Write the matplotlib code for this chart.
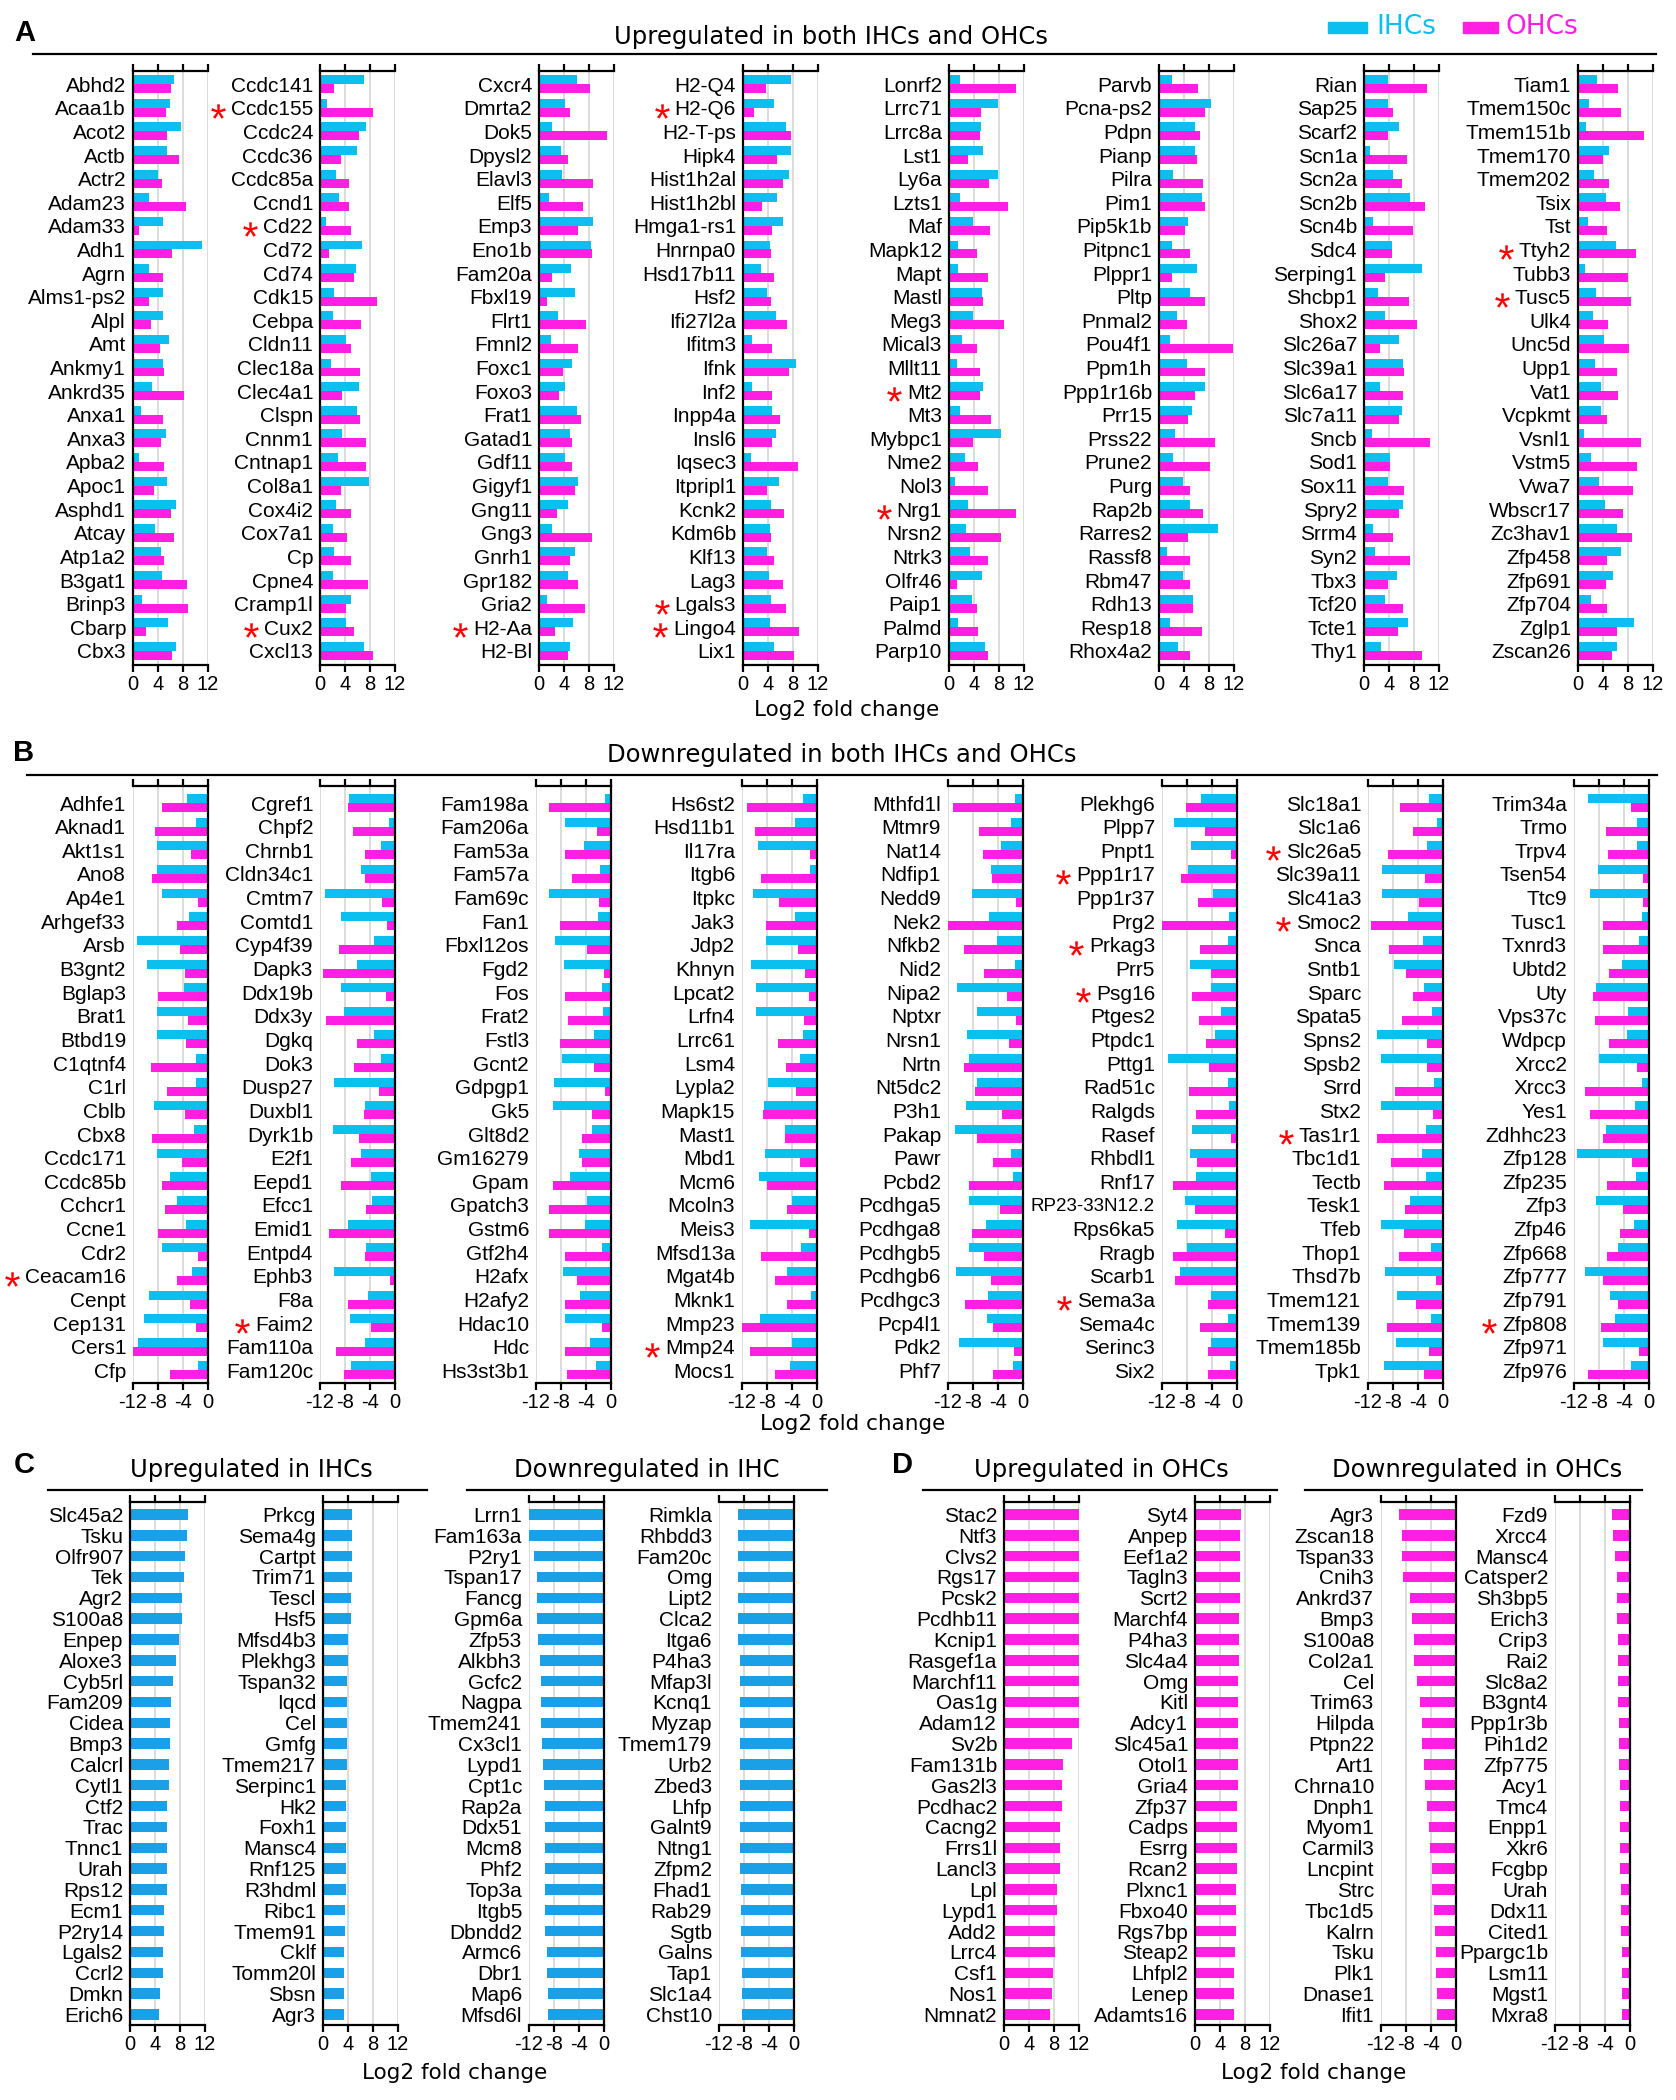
import numpy as np
import matplotlib
matplotlib.use("Agg")
import matplotlib.pyplot as plt
from matplotlib.patches import Rectangle
from matplotlib.lines import Line2D
from matplotlib.path import Path
from matplotlib.textpath import TextPath
from matplotlib.font_manager import FontProperties

plt.rcParams['axes.unicode_minus'] = False

IHC_COLOR = '#0bc0ee'
OHC_COLOR = '#ff1fe3'
IHC_ONLY = '#1aa0e6'
LABEL_FONT = ['Liberation Sans Narrow', 'Liberation Sans', 'DejaVu Sans']
TITLE_FONT = ['DejaVu Sans']

# ---------------- A: upregulated in both IHCs and OHCs ----------------
a1_genes = ["Abhd2", "Acaa1b", "Acot2", "Actb", "Actr2", "Adam23", "Adam33", "Adh1", "Agrn", "Alms1-ps2",
            "Alpl", "Amt", "Ankmy1", "Ankrd35", "Anxa1", "Anxa3", "Apba2", "Apoc1", "Asphd1", "Atcay",
            "Atp1a2", "B3gat1", "Brinp3", "Cbarp", "Cbx3"]
a1_ihc = [6.6, 5.9, 7.6, 5.5, 4.0, 2.6, 4.8, 11.0, 2.6, 4.8, 4.8, 5.8, 4.8, 3.1, 1.3, 5.2, 1.0, 5.5, 6.8, 3.5,
          4.4, 4.6, 1.5, 5.6, 6.8]
a1_ohc = [6.0, 5.2, 5.5, 7.3, 4.7, 8.5, 1.0, 6.2, 4.8, 2.6, 2.9, 4.3, 4.9, 8.1, 4.8, 4.4, 4.9, 3.3, 6.0, 6.5,
          4.9, 8.7, 8.8, 2.1, 6.3]

a2_genes = ["Ccdc141", "Ccdc155", "Ccdc24", "Ccdc36", "Ccdc85a", "Ccnd1", "Cd22", "Cd72", "Cd74", "Cdk15",
            "Cebpa", "Cldn11", "Clec18a", "Clec4a1", "Clspn", "Cnnm1", "Cntnap1", "Col8a1", "Cox4i2", "Cox7a1",
            "Cp", "Cpne4", "Cramp1l", "Cux2", "Cxcl13"]
a2_ihc = [7.1, 1.1, 7.4, 5.9, 2.5, 3.0, 0.9, 6.7, 5.7, 2.2, 2.1, 4.2, 1.7, 6.3, 5.9, 3.5, 2.9, 7.9, 2.6, 2.0,
          2.2, 2.0, 5.0, 4.2, 7.0]
a2_ohc = [2.3, 8.5, 6.2, 3.3, 4.6, 4.7, 4.9, 1.5, 5.4, 9.1, 6.6, 4.9, 6.4, 3.5, 6.4, 7.4, 7.3, 3.4, 4.9, 4.3,
          4.9, 7.6, 4.1, 5.5, 8.4]

a3_genes = ["Cxcr4", "Dmrta2", "Dok5", "Dpysl2", "Elavl3", "Elf5", "Emp3", "Eno1b", "Fam20a", "Fbxl19",
            "Flrt1", "Fmnl2", "Foxc1", "Foxo3", "Frat1", "Gatad1", "Gdf11", "Gigyf1", "Gng11", "Gng3",
            "Gnrh1", "Gpr182", "Gria2", "H2-Aa", "H2-Bl"]
a3_ihc = [6.1, 4.2, 2.1, 3.5, 3.6, 1.6, 8.7, 8.3, 5.1, 5.8, 3.0, 1.9, 5.3, 4.2, 6.1, 4.9, 4.2, 6.2, 4.7, 2.0,
          5.7, 4.6, 1.3, 5.5, 5.0]
a3_ohc = [8.1, 4.9, 10.8, 4.7, 8.7, 7.1, 6.2, 8.5, 2.1, 1.3, 7.5, 6.3, 3.8, 3.2, 6.7, 5.2, 5.2, 5.8, 2.8, 8.5,
          4.9, 6.3, 7.3, 2.6, 4.7]

a4_genes = ["H2-Q4", "H2-Q6", "H2-T-ps", "Hipk4", "Hist1h2al", "Hist1h2bl", "Hmga1-rs1", "Hnrnpa0", "Hsd17b11",
            "Hsf2", "Ifi27l2a", "Ifitm3", "Ifnk", "Inf2", "Inpp4a", "Insl6", "Iqsec3", "Itpripl1", "Kcnk2",
            "Kdm6b", "Klf13", "Lag3", "Lgals3", "Lingo4", "Lix1"]
a4_ihc = [7.7, 5.0, 6.8, 7.7, 7.4, 5.4, 6.4, 4.3, 2.9, 3.9, 5.2, 1.5, 8.4, 1.5, 4.6, 5.2, 1.2, 5.7, 4.5, 4.3,
          3.9, 4.2, 4.5, 4.3, 5.0]
a4_ohc = [3.7, 1.7, 7.6, 5.5, 6.4, 3.1, 4.7, 4.5, 4.9, 4.5, 7.1, 4.6, 7.4, 4.6, 5.9, 4.7, 8.8, 3.8, 6.6, 4.5,
          4.9, 6.4, 6.8, 9.0, 8.2]

a5_genes = ["Lonrf2", "Lrrc71", "Lrrc8a", "Lst1", "Ly6a", "Lzts1", "Maf", "Mapk12", "Mapt", "Mastl",
            "Meg3", "Mical3", "Mllt11", "Mt2", "Mt3", "Mybpc1", "Nme2", "Nol3", "Nrg1", "Nrsn2",
            "Ntrk3", "Olfr46", "Paip1", "Palmd", "Parp10"]
a5_ihc = [1.7, 7.9, 5.1, 5.4, 7.8, 1.7, 3.8, 1.5, 1.5, 5.3, 3.9, 2.1, 1.3, 5.4, 1.7, 8.3, 2.5, 1.0, 3.0, 2.7,
          3.4, 5.3, 3.6, 1.5, 5.7]
a5_ohc = [10.7, 5.1, 4.9, 3.0, 6.4, 9.5, 6.6, 4.5, 6.2, 5.4, 8.8, 4.5, 4.9, 5.0, 6.7, 3.8, 4.7, 6.2, 10.7, 8.3,
          6.3, 1.3, 4.5, 4.7, 6.2]

a6_genes = ["Parvb", "Pcna-ps2", "Pdpn", "Pianp", "Pilra", "Pim1", "Pip5k1b", "Pitpnc1", "Plppr1", "Pltp",
            "Pnmal2", "Pou4f1", "Ppm1h", "Ppp1r16b", "Prr15", "Prss22", "Prune2", "Purg", "Rap2b", "Rarres2",
            "Rassf8", "Rbm47", "Rdh13", "Resp18", "Rhox4a2"]
a6_ihc = [2.0, 8.3, 5.8, 5.8, 2.2, 6.8, 4.7, 2.0, 6.0, 4.9, 2.8, 1.8, 4.5, 7.3, 5.2, 2.6, 2.2, 3.9, 5.0, 9.4,
          1.2, 3.8, 5.4, 1.8, 3.0]
a6_ohc = [6.2, 7.3, 6.5, 6.0, 7.0, 7.3, 4.1, 4.9, 2.1, 7.3, 4.4, 11.9, 7.3, 5.8, 4.7, 8.9, 8.1, 4.9, 7.0, 4.6,
          4.9, 4.9, 5.5, 6.9, 4.9]

a7_genes = ["Rian", "Sap25", "Scarf2", "Scn1a", "Scn2a", "Scn2b", "Scn4b", "Sdc4", "Serping1", "Shcbp1",
            "Shox2", "Slc26a7", "Slc39a1", "Slc6a17", "Slc7a11", "Sncb", "Sod1", "Sox11", "Spry2", "Srrm4",
            "Syn2", "Tbx3", "Tcf20", "Tcte1", "Thy1"]
a7_ihc = [3.8, 3.8, 5.6, 0.9, 4.7, 7.4, 1.5, 4.4, 9.2, 2.2, 3.3, 5.6, 6.2, 2.5, 6.1, 1.3, 4.2, 3.8, 6.3, 1.5,
          1.7, 5.3, 3.4, 7.0, 2.7]
a7_ohc = [10.0, 4.6, 3.9, 6.8, 6.1, 9.7, 7.9, 4.5, 3.4, 7.2, 8.4, 2.5, 6.4, 6.2, 5.6, 10.5, 4.2, 6.4, 5.6, 4.7,
          7.4, 3.8, 6.2, 5.5, 9.3]

a8_genes = ["Tiam1", "Tmem150c", "Tmem151b", "Tmem170", "Tmem202", "Tsix", "Tst", "Ttyh2", "Tubb3", "Tusc5",
            "Ulk4", "Unc5d", "Upp1", "Vat1", "Vcpkmt", "Vsnl1", "Vstm5", "Vwa7", "Wbscr17", "Zc3hav1",
            "Zfp458", "Zfp691", "Zfp704", "Zglp1", "Zscan26"]
a8_ihc = [3.0, 1.7, 1.3, 5.0, 2.5, 4.5, 1.6, 6.1, 1.1, 2.9, 2.4, 4.1, 2.7, 3.6, 3.6, 0.9, 2.0, 3.3, 4.3, 6.2,
          6.8, 5.6, 2.1, 9.0, 6.3]
a8_ohc = [6.4, 6.9, 10.5, 4.0, 5.0, 6.7, 4.6, 9.3, 8.0, 8.4, 4.8, 8.2, 6.2, 6.4, 4.6, 10.0, 9.5, 8.8, 7.2, 8.7,
          4.6, 4.5, 4.6, 6.3, 5.4]

# ---------------- B: downregulated in both IHCs and OHCs ----------------
b1_genes = ["Adhfe1", "Aknad1", "Akt1s1", "Ano8", "Ap4e1", "Arhgef33", "Arsb", "B3gnt2", "Bglap3", "Brat1",
            "Btbd19", "C1qtnf4", "C1rl", "Cblb", "Cbx8", "Ccdc171", "Ccdc85b", "Cchcr1", "Ccne1", "Cdr2",
            "Ceacam16", "Cenpt", "Cep131", "Cers1", "Cfp"]
b1_ihc = [-3.3, -2.0, -8.2, -8.2, -7.3, -3.1, -11.4, -9.7, -3.9, -8.2, -8.2, -2.0, -2.0, -8.6, -2.2, -8.1, -6.1,
          -4.9, -3.5, -7.4, -2.5, -9.4, -10.3, -11.2, -1.6]
b1_ohc = [-7.4, -8.5, -2.8, -8.9, -1.6, -4.9, -4.5, -3.7, -8.0, -3.2, -3.5, -9.2, -6.6, -3.7, -8.9, -4.2, -7.3,
          -6.9, -8.0, -1.6, -5.0, -2.9, -1.9, -12.0, -6.1]

b2_genes = ["Cgref1", "Chpf2", "Chrnb1", "Cldn34c1", "Cmtm7", "Comtd1", "Cyp4f39", "Dapk3", "Ddx19b", "Ddx3y",
            "Dgkq", "Dok3", "Dusp27", "Duxbl1", "Dyrk1b", "E2f1", "Eepd1", "Efcc1", "Emid1", "Entpd4",
            "Ephb3", "F8a", "Faim2", "Fam110a", "Fam120c"]
b2_ihc = [-7.3, -1.0, -2.3, -5.5, -11.2, -8.6, -3.3, -6.1, -8.7, -8.2, -3.4, -2.2, -9.7, -4.8, -10.0, -5.4, -3.9,
          -3.7, -7.6, -4.6, -9.7, -4.3, -7.2, -4.8, -7.1]
b2_ohc = [-7.6, -6.8, -4.8, -4.8, -2.1, -1.3, -8.9, -11.5, -1.5, -11.0, -6.1, -6.5, -2.6, -5.0, -5.7, -7.0, -8.6,
          -4.7, -10.6, -4.8, -0.8, -7.6, -3.9, -9.5, -8.2]

b3_genes = ["Fam198a", "Fam206a", "Fam53a", "Fam57a", "Fam69c", "Fan1", "Fbxl12os", "Fgd2", "Fos", "Frat2",
            "Fstl3", "Gcnt2", "Gdpgp1", "Gk5", "Glt8d2", "Gm16279", "Gpam", "Gpatch3", "Gstm6", "Gtf2h4",
            "H2afx", "H2afy2", "Hdac10", "Hdc", "Hs3st3b1"]
b3_ihc = [-0.9, -7.4, -4.4, -1.8, -10.0, -2.1, -9.0, -7.5, -1.4, -1.3, -2.8, -7.8, -9.2, -9.3, -3.1, -5.1, -6.5,
          -3.9, -4.1, -1.4, -7.7, -5.0, -7.4, -3.4, -2.4]
b3_ohc = [-10.0, -2.2, -7.4, -6.3, -1.9, -8.1, -3.9, -1.2, -7.4, -6.9, -8.2, -2.8, -0.9, -3.1, -4.7, -4.7, -9.3,
          -10.0, -10.0, -7.4, -5.4, -7.4, -1.4, -7.3, -7.0]

b4_genes = ["Hs6st2", "Hsd11b1", "Il17ra", "Itgb6", "Itpkc", "Jak3", "Jdp2", "Khnyn", "Lpcat2", "Lrfn4",
            "Lrrc61", "Lsm4", "Lypla2", "Mapk15", "Mast1", "Mbd1", "Mcm6", "Mcoln3", "Meis3", "Mfsd13a",
            "Mgat4b", "Mknk1", "Mmp23", "Mmp24", "Mocs1"]
b4_ihc = [-2.2, -3.5, -9.4, -1.2, -10.3, -3.6, -8.1, -10.5, -9.8, -9.7, -2.2, -2.7, -7.8, -8.5, -5.2, -8.4, -9.3,
          -4.0, -10.7, -2.5, -4.8, -0.9, -9.2, -4.0, -4.4]
b4_ohc = [-11.2, -10.0, -1.1, -8.9, -6.1, -8.1, -3.0, -2.0, -1.3, -2.1, -6.3, -4.9, -3.3, -8.7, -5.1, -2.7, -8.0,
          -4.8, -1.3, -8.9, -6.8, -4.8, -12.0, -10.8, -6.8]

b5_genes = ["Mthfd1l", "Mtmr9", "Nat14", "Ndfip1", "Nedd9", "Nek2", "Nfkb2", "Nid2", "Nipa2", "Nptxr",
            "Nrsn1", "Nrtn", "Nt5dc2", "P3h1", "Pakap", "Pawr", "Pcbd2", "Pcdhga5", "Pcdhga8", "Pcdhgb5",
            "Pcdhgb6", "Pcdhgc3", "Pcp4l1", "Pdk2", "Phf7"]
b5_ihc = [-1.3, -2.0, -3.6, -5.2, -8.1, -5.5, -4.1, -1.3, -10.6, -7.3, -9.0, -8.7, -7.3, -9.2, -10.9, -1.9, -1.6,
          -8.7, -6.0, -8.7, -10.7, -5.6, -5.7, -10.2, -1.6]
b5_ohc = [-11.2, -7.1, -6.4, -4.9, -1.2, -12.0, -9.4, -6.2, -2.6, -1.2, -2.2, -9.5, -7.7, -3.4, -7.4, -4.8, -8.7,
          -3.7, -8.2, -6.3, -5.2, -9.3, -4.8, -1.4, -4.8]

b6_genes = ["Plekhg6", "Plpp7", "Pnpt1", "Ppp1r17", "Ppp1r37", "Prg2", "Prkag3", "Prr5", "Psg16", "Ptges2",
            "Ptpdc1", "Pttg1", "Rad51c", "Ralgds", "Rasef", "Rhbdl1", "Rnf17", "RP23-33N12.2", "Rps6ka5",
            "Rragb", "Scarb1", "Sema3a", "Sema4c", "Serinc3", "Six2"]
b6_ihc = [-5.8, -10.1, -7.3, -7.8, -3.8, -1.3, -1.4, -7.5, -4.2, -2.5, -3.6, -11.1, -1.4, -1.3, -7.2, -7.6, -6.6,
          -8.4, -9.6, -8.0, -9.1, -4.2, -1.5, -4.2, -1.2]
b6_ohc = [-8.2, -5.2, -1.0, -9.0, -6.3, -12.0, -6.0, -4.2, -7.2, -6.1, -4.9, -4.5, -7.7, -6.6, -1.0, -6.4, -10.2,
          -6.8, -2.0, -10.2, -9.9, -4.7, -6.0, -4.7, -4.7]

b7_genes = ["Slc18a1", "Slc1a6", "Slc26a5", "Slc39a11", "Slc41a3", "Smoc2", "Snca", "Sntb1", "Sparc", "Spata5",
            "Spns2", "Spsb2", "Srrd", "Stx2", "Tas1r1", "Tbc1d1", "Tectb", "Tesk1", "Tfeb", "Thop1",
            "Thsd7b", "Tmem121", "Tmem139", "Tmem185b", "Tpk1"]
b7_ihc = [-2.3, -1.0, -2.6, -9.7, -9.7, -5.6, -3.2, -7.8, -3.0, -1.8, -10.6, -10.0, -1.4, -9.9, -2.8, -3.4, -2.7,
          -5.3, -10.0, -1.9, -9.3, -7.3, -2.0, -7.6, -9.4]
b7_ohc = [-6.9, -4.8, -8.8, -2.9, -3.9, -11.5, -8.6, -6.0, -4.8, -6.5, -2.5, -2.6, -7.7, -1.6, -10.6, -8.4, -9.4,
          -6.1, -6.3, -7.1, -1.1, -4.3, -8.9, -2.3, -3.0]

b8_genes = ["Trim34a", "Trmo", "Trpv4", "Tsen54", "Ttc9", "Tusc1", "Txnrd3", "Ubtd2", "Uty", "Vps37c",
            "Wdpcp", "Xrcc2", "Xrcc3", "Yes1", "Zdhhc23", "Zfp128", "Zfp235", "Zfp3", "Zfp46", "Zfp668",
            "Zfp777", "Zfp791", "Zfp808", "Zfp971", "Zfp976"]
b8_ihc = [-9.7, -1.9, -1.9, -8.2, -9.5, -1.1, -1.6, -4.4, -8.5, -3.4, -3.6, -8.0, -1.2, -2.3, -6.9, -11.5, -2.1,
          -8.5, -2.4, -5.0, -10.2, -6.3, -5.4, -7.3, -2.9]
b8_ohc = [-2.9, -6.9, -6.5, -0.9, -0.9, -7.3, -7.4, -6.4, -8.9, -8.6, -6.4, -2.0, -10.2, -9.4, -7.3, -2.8, -6.8,
          -4.1, -4.7, -6.8, -7.4, -5.0, -7.7, -1.6, -9.8]

# genes marked with a red asterisk
starred = ["Ccdc155", "Cd22", "Cux2", "H2-Aa", "H2-Q6", "Lgals3", "Lingo4", "Mt2", "Nrg1", "Ttyh2", "Tusc5",
           "Ceacam16", "Faim2", "Mmp24", "Ppp1r17", "Prkag3", "Psg16", "Sema3a", "Slc26a5", "Smoc2", "Tas1r1",
           "Zfp808"]

# ---------------- C: IHC only ----------------
c_up1_genes = ["Slc45a2", "Tsku", "Olfr907", "Tek", "Agr2", "S100a8", "Enpep", "Aloxe3", "Cyb5rl", "Fam209",
               "Cidea", "Bmp3", "Calcrl", "Cytl1", "Ctf2", "Trac", "Tnnc1", "Urah", "Rps12", "Ecm1",
               "P2ry14", "Lgals2", "Ccrl2", "Dmkn", "Erich6"]
c_up1_vals = [9.3, 9.1, 8.8, 8.6, 8.3, 8.3, 7.9, 7.4, 6.8, 6.6, 6.4, 6.4, 6.3, 6.2, 5.9, 5.9, 5.9, 5.9, 5.9, 5.5,
              5.5, 5.3, 5.2, 4.8, 4.7]
c_up2_genes = ["Prkcg", "Sema4g", "Cartpt", "Trim71", "Tescl", "Hsf5", "Mfsd4b3", "Plekhg3", "Tspan32", "Iqcd",
               "Cel", "Gmfg", "Tmem217", "Serpinc1", "Hk2", "Foxh1", "Mansc4", "Rnf125", "R3hdml", "Ribc1",
               "Tmem91", "Cklf", "Tomm20l", "Sbsn", "Agr3"]
c_up2_vals = [4.6, 4.6, 4.6, 4.6, 4.5, 4.4, 4.0, 4.0, 3.9, 3.9, 3.8, 3.8, 3.8, 3.7, 3.7, 3.6, 3.6, 3.6, 3.6, 3.5,
              3.5, 3.3, 3.3, 3.3, 3.3]
c_dn1_genes = ["Lrrn1", "Fam163a", "P2ry1", "Tspan17", "Fancg", "Gpm6a", "Zfp53", "Alkbh3", "Gcfc2", "Nagpa",
               "Tmem241", "Cx3cl1", "Lypd1", "Cpt1c", "Rap2a", "Ddx51", "Mcm8", "Phf2", "Top3a", "Itgb5",
               "Dbndd2", "Armc6", "Dbr1", "Map6", "Mfsd6l"]
c_dn1_vals = [-12.0, -12.0, -11.2, -10.8, -10.8, -10.7, -10.6, -10.3, -10.1, -10.1, -10.1, -9.9, -9.7, -9.6, -9.5,
              -9.5, -9.5, -9.5, -9.4, -9.4, -9.4, -9.2, -9.1, -8.9, -8.9]
c_dn2_genes = ["Rimkla", "Rhbdd3", "Fam20c", "Omg", "Lipt2", "Clca2", "Itga6", "P4ha3", "Mfap3l", "Kcnq1",
               "Myzap", "Tmem179", "Urb2", "Zbed3", "Lhfp", "Galnt9", "Ntng1", "Zfpm2", "Fhad1", "Rab29",
               "Sgtb", "Galns", "Tap1", "Slc1a4", "Chst10"]
c_dn2_vals = [-9.0, -9.0, -9.0, -9.0, -8.9, -8.9, -8.9, -8.7, -8.7, -8.7, -8.7, -8.7, -8.7, -8.7, -8.6, -8.6, -8.6,
              -8.6, -8.5, -8.5, -8.5, -8.5, -8.4, -8.4, -8.3]

# ---------------- D: OHC only ----------------
d_up1_genes = ["Stac2", "Ntf3", "Clvs2", "Rgs17", "Pcsk2", "Pcdhb11", "Kcnip1", "Rasgef1a", "Marchf11", "Oas1g",
               "Adam12", "Sv2b", "Fam131b", "Gas2l3", "Pcdhac2", "Cacng2", "Frrs1l", "Lancl3", "Lpl", "Lypd1",
               "Add2", "Lrrc4", "Csf1", "Nos1", "Nmnat2"]
d_up1_vals = [12.0, 12.0, 12.0, 12.0, 12.0, 12.0, 12.0, 12.0, 12.0, 12.0, 12.0, 10.9, 9.5, 9.3, 9.3, 9.0, 9.0,
              8.9, 8.4, 8.4, 8.1, 8.1, 7.8, 7.6, 7.4]
d_up2_genes = ["Syt4", "Anpep", "Eef1a2", "Tagln3", "Scrt2", "Marchf4", "P4ha3", "Slc4a4", "Omg", "Kitl",
               "Adcy1", "Slc45a1", "Otol1", "Gria4", "Zfp37", "Cadps", "Esrrg", "Rcan2", "Plxnc1", "Fbxo40",
               "Rgs7bp", "Steap2", "Lhfpl2", "Lenep", "Adamts16"]
d_up2_vals = [7.3, 7.2, 7.2, 7.2, 7.2, 7.0, 7.0, 7.0, 6.9, 6.8, 6.8, 6.8, 6.8, 6.8, 6.7, 6.7, 6.7, 6.7, 6.5, 6.5,
              6.5, 6.4, 6.2, 6.2, 6.2]
d_dn1_genes = ["Agr3", "Zscan18", "Tspan33", "Cnih3", "Ankrd37", "Bmp3", "S100a8", "Col2a1", "Cel", "Trim63",
               "Hilpda", "Ptpn22", "Art1", "Chrna10", "Dnph1", "Myom1", "Carmil3", "Lncpint", "Strc", "Tbc1d5",
               "Kalrn", "Tsku", "Plk1", "Dnase1", "Ifit1"]
d_dn1_vals = [-9.2, -8.6, -8.6, -8.5, -7.3, -7.0, -6.8, -6.8, -6.2, -5.7, -5.5, -5.4, -5.2, -4.9, -4.6, -4.4, -4.1,
              -3.8, -3.8, -3.6, -3.3, -3.2, -3.2, -3.1, -3.1]
d_dn2_genes = ["Fzd9", "Xrcc4", "Mansc4", "Catsper2", "Sh3bp5", "Erich3", "Crip3", "Rai2", "Slc8a2", "B3gnt4",
               "Ppp1r3b", "Pih1d2", "Zfp775", "Acy1", "Tmc4", "Enpp1", "Xkr6", "Fcgbp", "Urah", "Ddx11",
               "Cited1", "Ppargc1b", "Lsm11", "Mgst1", "Mxra8"]
d_dn2_vals = [-2.9, -2.7, -2.4, -2.1, -2.1, -2.1, -2.0, -2.0, -1.9, -1.9, -1.8, -1.8, -1.8, -1.6, -1.6, -1.6, -1.6,
              -1.6, -1.5, -1.5, -1.5, -1.3, -1.3, -1.3, -1.3]


W, H = 1676, 2100
fig = plt.figure(figsize=(W / 100, H / 100), dpi=100)

# red asterisk drawn as a marker built from the font glyph, centred on its own box
_tp = TextPath((0, 0), '*', prop=FontProperties(family=['Liberation Sans', 'DejaVu Sans']))
_codes = _tp.codes
_v = _tp.vertices.copy()
_real = _codes != Path.CLOSEPOLY
_cx = (_v[_real, 0].min() + _v[_real, 0].max()) / 2
_cy = (_v[_real, 1].min() + _v[_real, 1].max()) / 2
_v -= [_cx, _cy]
_v[~_real] = 0
STAR = Path(_v, _codes)

star_labels = []


def px_axes(x0, ytop, ybot, w=75):
    return fig.add_axes([x0 / W, 1 - ybot / H, w / W, (ybot - ytop) / H])


def ftext(x, y, s, **kw):
    fig.text(x / W, 1 - y / H, s, **kw)


def hline(x0, x1, y, lw=1.6):
    fig.add_artist(Line2D([x0 / W, x1 / W], [1 - y / H, 1 - y / H], color='black', lw=lw))


def style(ax, genes, down, top_pad, bot_pad):
    n = len(genes)
    ax.set_ylim(n - 1 + bot_pad, -top_pad)
    ax.set_yticks(np.arange(n))
    ax.set_yticklabels(genes, fontsize=15, family=LABEL_FONT)
    ax.tick_params(axis='y', length=0, pad=5)
    if down:
        ax.set_xlim(-12, 0)
        ticks = [-12, -8, -4, 0]
    else:
        ax.set_xlim(0, 12)
        ticks = [0, 4, 8, 12]
    ax.set_xticks(ticks)
    ax.set_xticklabels([str(t) for t in ticks], fontsize=14.5, family=LABEL_FONT)
    ax.tick_params(axis='x', top=True, bottom=True, direction='out', length=5, width=1.6, pad=2)
    for side in ['top', 'bottom', 'left', 'right']:
        ax.spines[side].set_linewidth(1.6)
    ax.spines['left'].set_visible(not down)
    ax.spines['right'].set_visible(down)
    ax.grid(axis='x', color='#d9d9d9', lw=1.3)
    ax.set_axisbelow(True)
    for lab in ax.get_yticklabels():
        if len(lab.get_text()) > 10:
            lab.set_fontsize(13.5)
        if lab.get_text() in starred:
            star_labels.append(lab)


def pair_panel(x0, ytop, ybot, genes, ihc, ohc, down, top_pad, bot_pad, h=0.38):
    ax = px_axes(x0, ytop, ybot)
    y = np.arange(len(genes))
    ax.barh(y - h / 2, ihc, height=h, color=IHC_COLOR)
    ax.barh(y + h / 2, ohc, height=h, color=OHC_COLOR)
    style(ax, genes, down, top_pad, bot_pad)


def single_panel(x0, genes, vals, color, down):
    ax = px_axes(x0, 1502, 2025)
    y = np.arange(len(genes))
    ax.barh(y, vals, height=0.5, color=color)
    style(ax, genes, down, 0.6, 0.51)


# panel A
a_cols = [(a1_genes, a1_ihc, a1_ohc), (a2_genes, a2_ihc, a2_ohc), (a3_genes, a3_ihc, a3_ohc),
          (a4_genes, a4_ihc, a4_ohc), (a5_genes, a5_ihc, a5_ohc), (a6_genes, a6_ihc, a6_ohc),
          (a7_genes, a7_ihc, a7_ohc), (a8_genes, a8_ihc, a8_ohc)]
a_left = [133, 320, 539, 743, 949, 1159, 1364, 1578]
for (g, i, o), x0 in zip(a_cols, a_left):
    pair_panel(x0, 71, 665, g, i, o, False, 0.56, 0.6)

# panel B
b_cols = [(b1_genes, b1_ihc, b1_ohc), (b2_genes, b2_ihc, b2_ohc), (b3_genes, b3_ihc, b3_ohc),
          (b4_genes, b4_ihc, b4_ohc), (b5_genes, b5_ihc, b5_ohc), (b6_genes, b6_ihc, b6_ohc),
          (b7_genes, b7_ihc, b7_ohc), (b8_genes, b8_ihc, b8_ohc)]
b_left = [133, 320, 536, 742, 948, 1162, 1368, 1574]
for (g, i, o), x0 in zip(b_cols, b_left):
    pair_panel(x0, 786, 1383, g, i, o, True, 0.72, 0.53)

# panels C and D
single_panel(130, c_up1_genes, c_up1_vals, IHC_ONLY, False)
single_panel(323, c_up2_genes, c_up2_vals, IHC_ONLY, False)
single_panel(529, c_dn1_genes, c_dn1_vals, IHC_ONLY, True)
single_panel(719, c_dn2_genes, c_dn2_vals, IHC_ONLY, True)
single_panel(1004, d_up1_genes, d_up1_vals, OHC_COLOR, False)
single_panel(1195, d_up2_genes, d_up2_vals, OHC_COLOR, False)
single_panel(1381, d_dn1_genes, d_dn1_vals, OHC_COLOR, True)
single_panel(1555, d_dn2_genes, d_dn2_vals, OHC_COLOR, True)

# titles, rules, letters
tkw = dict(fontsize=17.5, family=TITLE_FONT, ha='center', va='center')
ftext(831, 37, "Upregulated in both IHCs and OHCs", **tkw)
ftext(842, 755, "Downregulated in both IHCs and OHCs", **tkw)
ftext(251, 1470, "Upregulated in IHCs", **tkw)
ftext(647, 1470, "Downregulated in IHC", **tkw)
ftext(1101, 1470, "Upregulated in OHCs", **tkw)
ftext(1477, 1470, "Downregulated in OHCs", **tkw)
hline(33, 1656, 54)
hline(27, 1657, 775)
hline(48, 427, 1490)
hline(467, 827, 1490)
hline(923, 1277, 1490)
hline(1305, 1642, 1490)

lkw = dict(fontsize=21, fontweight='bold', family=['Liberation Sans', 'DejaVu Sans'], ha='left', va='center')
ftext(14, 33, "A", **lkw)
ftext(13, 753, "B", **lkw)
ftext(14, 1465, "C", **lkw)
ftext(892, 1465, "D", **lkw)

xkw = dict(fontsize=15.5, family=TITLE_FONT, ha='center', va='center')
ftext(847, 710, "Log2 fold change", **xkw)
ftext(853, 1424, "Log2 fold change", **xkw)
ftext(455, 2073, "Log2 fold change", **xkw)
ftext(1314, 2073, "Log2 fold change", **xkw)

# legend
fig.add_artist(Rectangle((1328 / W, 1 - 33 / H), 39 / W, 11 / H, transform=fig.transFigure, color=IHC_COLOR))
fig.add_artist(Rectangle((1463 / W, 1 - 33 / H), 35 / W, 11 / H, transform=fig.transFigure, color=OHC_COLOR))
ftext(1376, 27, "IHCs", fontsize=19, family=TITLE_FONT, color=IHC_COLOR, ha='left', va='center')
ftext(1505, 27, "OHCs", fontsize=19, family=TITLE_FONT, color=OHC_COLOR, ha='left', va='center')

# place the asterisks just left of their gene labels
fig.canvas.draw()
renderer = fig.canvas.get_renderer()
inv = fig.transFigure.inverted()
for lab in star_labels:
    bb = lab.get_window_extent(renderer)
    fx, fy = inv.transform((bb.x0 - 13, (bb.y0 + bb.y1) / 2 - 1))
    fig.add_artist(Line2D([fx], [fy], transform=fig.transFigure, linestyle='none', marker=STAR,
                          markersize=10.5, markerfacecolor='red', markeredgewidth=0))

fig.savefig("out.png", dpi=100)
